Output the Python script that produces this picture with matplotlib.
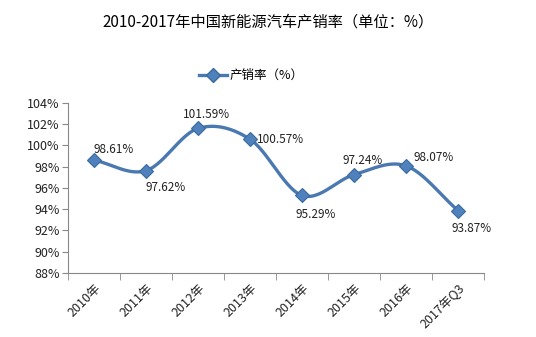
import numpy as np
import matplotlib.pyplot as plt

plt.rcParams['font.family'] = ['Noto Sans CJK SC', 'DejaVu Sans']

years = ['2010年', '2011年', '2012年', '2013年', '2014年', '2015年', '2016年', '2017年Q3']
rate = [98.61, 97.62, 101.59, 100.57, 95.29, 97.24, 98.07, 93.87]
# label placement: offset in points (dx, dy)
label_pos = [(14, 8), (14, -12), (6, 10), (22, 0), (10, -14), (6, 10), (20, 6), (10, -13)]

line_c = '#4a78b0'
mark_c = '#4f81bd'


def smooth(x, y, n=30):
    # catmull-rom style curve through the points (like Excel smoothed line)
    x = np.asarray(x, float)
    y = np.asarray(y, float)
    px = np.concatenate([[2 * x[0] - x[1]], x, [2 * x[-1] - x[-2]]])
    py = np.concatenate([[2 * y[0] - y[1]], y, [2 * y[-1] - y[-2]]])
    xs, ys = [], []
    t = np.linspace(0, 1, n)
    for i in range(1, len(px) - 2):
        for p, out in ((px, xs), (py, ys)):
            p0, p1, p2, p3 = p[i - 1], p[i], p[i + 1], p[i + 2]
            out.extend(0.5 * (2 * p1 + (-p0 + p2) * t
                              + (2 * p0 - 5 * p1 + 4 * p2 - p3) * t ** 2
                              + (-p0 + 3 * p1 - 3 * p2 + p3) * t ** 3))
    return np.array(xs), np.array(ys)


fig = plt.figure(figsize=(5.36, 3.37), dpi=100)
ax = fig.add_axes([0.127, 0.19, 0.776, 0.505])

X = np.arange(len(years))
sx, sy = smooth(X, rate)
ax.plot(sx, sy, color=line_c, lw=2.4, zorder=2)
ax.plot(X, rate, ls='none', marker='D', ms=7, mfc=mark_c, mec='#3a6a9e', mew=0.8, zorder=3)

for i, v in enumerate(rate):
    dx, dy = label_pos[i]
    ax.annotate('%.2f%%' % v, (X[i], v), xytext=(dx, dy), textcoords='offset points',
                ha='center', va='center', fontsize=8.5, color='#222222')

ax.set_xlim(-0.5, len(years) - 0.5)
ax.set_ylim(88, 104)
ax.set_yticks(np.arange(88, 105, 2))
ax.set_yticklabels(['%d%%' % v for v in range(88, 105, 2)], fontsize=9, color='#222222')
ax.set_xticks(X)
ax.set_xticklabels(years, rotation=45, ha='right', rotation_mode='anchor', fontsize=9, color='#222222')
ax.set_xticks(np.arange(-0.5, len(years), 1), minor=True)
ax.tick_params(axis='x', which='major', length=0, pad=6)
ax.tick_params(axis='x', which='minor', length=5, color='#888888')
ax.tick_params(axis='y', length=4, color='#888888', pad=2)
for s in ['top', 'right']:
    ax.spines[s].set_visible(False)
for s in ['left', 'bottom']:
    ax.spines[s].set_color('#888888')

fig.text(0.5, 0.935, '2010-2017年中国新能源汽车产销率（单位：%）', ha='center', va='center', fontsize=11)

# legend
ax.plot([], [], color=line_c, lw=2.4, marker='D', ms=7, mfc=mark_c, mec='#3a6a9e', label='产销率（%）')
ax.legend(loc='center', bbox_to_anchor=(0.44, 1.16), frameon=False, fontsize=9,
          handlelength=2.2, handletextpad=0.2)

fig.savefig('out.png', dpi=100)
